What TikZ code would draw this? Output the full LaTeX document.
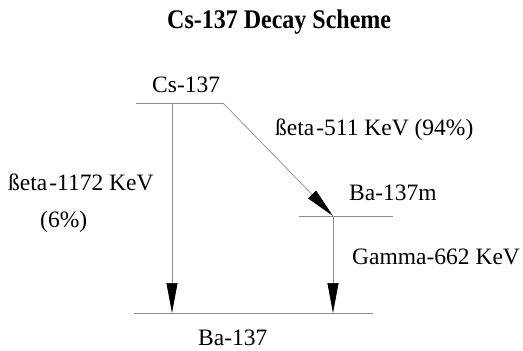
\documentclass[tikz,border=0pt]{standalone}
\usepackage{fontspec}
\setmainfont{Liberation Serif}
\usetikzlibrary{arrows.meta}
\begin{document}
\begin{tikzpicture}[x=1pt,y=1pt,
  level/.style={draw=black!45, line width=0.7pt},
  trans/.style={draw=black!45, line width=0.7pt,
    -{Triangle[length=30pt,width=11pt,fill=black,color=black]}},
  lbl/.style={inner sep=0pt, anchor=base west, font=\fontsize{23.5}{28}\selectfont},
]
\useasboundingbox (0,0) rectangle (523,-351);

% title
\node[lbl, yscale=1.12, font=\fontsize{24}{28}\selectfont\bfseries] (title) at (167,-28) {Cs-137 Decay Scheme};

% energy levels
\coordinate (csA) at (136,-103);
\coordinate (csB) at (223,-103);
\coordinate (csO) at (172,-103);
\coordinate (bmA) at (299,-216);
\coordinate (bmB) at (393,-216);
\coordinate (bmO) at (333,-216);
\coordinate (baA) at (134,-313);
\coordinate (baB) at (373,-313);
\coordinate (baL) at (172,-313);
\coordinate (baR) at (333,-313);

\draw[level] (csA) -- (csB);
\draw[level] (bmA) -- (bmB);
\draw[level] (baA) -- (baB);

% transitions
\draw[trans] (csB) -- (bmO);
\draw[trans] (csO) -- (baL);
\draw[trans] (bmO) -- (baR);

% labels
\node[lbl] (cs) at (152,-92) {Cs-137};
\node[lbl] (bm) at (349,-200) {Ba-137m};
\node[lbl] (ba) at (198,-345) {Ba-137};
\node[lbl] (b1) at (275,-135) {ßeta\kern2pt-511 KeV (94\%)};
\node[lbl] (b2) at (8,-190) {ßeta\kern2pt-1172 KeV};
\node[lbl] (b2p) at (40,-227) {(6\%)};
\node[lbl] (g) at (352,-264) {Gamma-662 KeV};
\end{tikzpicture}
\end{document}
